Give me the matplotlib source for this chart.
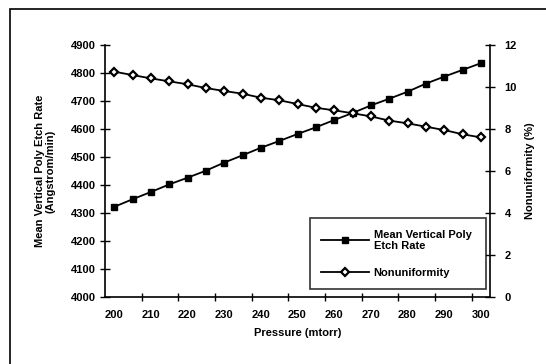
import matplotlib
matplotlib.use("Agg")
import matplotlib.pyplot as plt
from matplotlib.patches import Rectangle
from matplotlib.ticker import FixedLocator

pressure = [200, 205, 210, 215, 220, 225, 230, 235, 240, 245, 250,
            255, 260, 265, 270, 275, 280, 285, 290, 295, 300]
etch_rate = [4322, 4349, 4375, 4402, 4426, 4451, 4480, 4506, 4533, 4557, 4582,
             4606, 4632, 4657, 4684, 4708, 4733, 4762, 4787, 4811, 4835]
nonuniformity = [10.73, 10.57, 10.41, 10.27, 10.13, 9.95, 9.81, 9.68, 9.49, 9.37, 9.19,
                 9.01, 8.89, 8.75, 8.60, 8.40, 8.27, 8.11, 7.95, 7.75, 7.60]
x_ticks = [200, 210, 220, 230, 240, 250, 260, 270, 280, 290, 300]
left_ticks = [4000, 4100, 4200, 4300, 4400, 4500, 4600, 4700, 4800, 4900]
right_ticks = [0, 2, 4, 6, 8, 10, 12]

plt.rcParams['font.family'] = ['Liberation Sans', 'DejaVu Sans']
plt.rcParams['font.weight'] = 'bold'
plt.rcParams['axes.labelweight'] = 'bold'
FS = 8

fig = plt.figure(figsize=(5.46, 3.64), dpi=100)
fig.patches.append(Rectangle((10/546, -0.1), 1.2, 1.1 - 9/364,
                             transform=fig.transFigure, fill=False,
                             edgecolor='black', linewidth=1.2))

ax = fig.add_axes([105/546, 1 - 297/364, 385/546, 252/364])
ax2 = ax.twinx()

l1, = ax.plot(pressure, etch_rate, color='black', lw=1.3, marker='s',
              markersize=4.5, markerfacecolor='black', markeredgecolor='black')
l2, = ax2.plot(pressure, nonuniformity, color='black', lw=1.3, marker='D',
               markersize=4.0, markerfacecolor='white', markeredgecolor='black',
               markeredgewidth=1.6)

ax.set_xlim(197.5, 302.5)
ax.set_ylim(4000, 4900)
ax2.set_ylim(0, 12)

ax.xaxis.set_major_locator(FixedLocator(x_ticks))
ax.xaxis.set_minor_locator(FixedLocator([207.5 + 10 * i for i in range(10)]))
ax.tick_params(axis='x', which='major', length=0, pad=9, labelsize=FS)
ax.tick_params(axis='x', which='minor', direction='inout', length=6, width=1)
ax.set_yticks(left_ticks)
ax.tick_params(axis='y', direction='inout', length=7, width=1, pad=3, labelsize=FS)
ax2.set_yticks(right_ticks)
ax2.tick_params(axis='y', direction='inout', length=7, width=1, pad=7, labelsize=FS)

for a in (ax, ax2):
    a.spines['top'].set_visible(False)
    for s in a.spines.values():
        s.set_linewidth(1.2)
ax.spines['right'].set_visible(False)
ax2.spines['left'].set_visible(False)
ax2.spines['bottom'].set_visible(False)

ax.set_xlabel('Pressure (mtorr)', fontsize=FS, labelpad=6)
ax.set_ylabel('Mean Vertical Poly Etch Rate\n(Angstrom/min)', fontsize=FS, labelpad=11,
              linespacing=1.1)
ax2.set_ylabel('Nonuniformity (%)', fontsize=FS, labelpad=6)

leg = ax2.legend([l1, l2], ['Mean Vertical Poly\nEtch Rate', 'Nonuniformity'],
                 loc='lower left', bbox_to_anchor=(0.532, 0.032, 0.458, 0.325),
                 mode='expand', fontsize=FS, frameon=True, fancybox=False,
                 handlelength=4.3, handletextpad=0.45, borderpad=1.0,
                 labelspacing=1.5, borderaxespad=0)
leg.get_frame().set_edgecolor('black')
leg.get_frame().set_linewidth(1.2)

fig.savefig('out.png', dpi=100)
